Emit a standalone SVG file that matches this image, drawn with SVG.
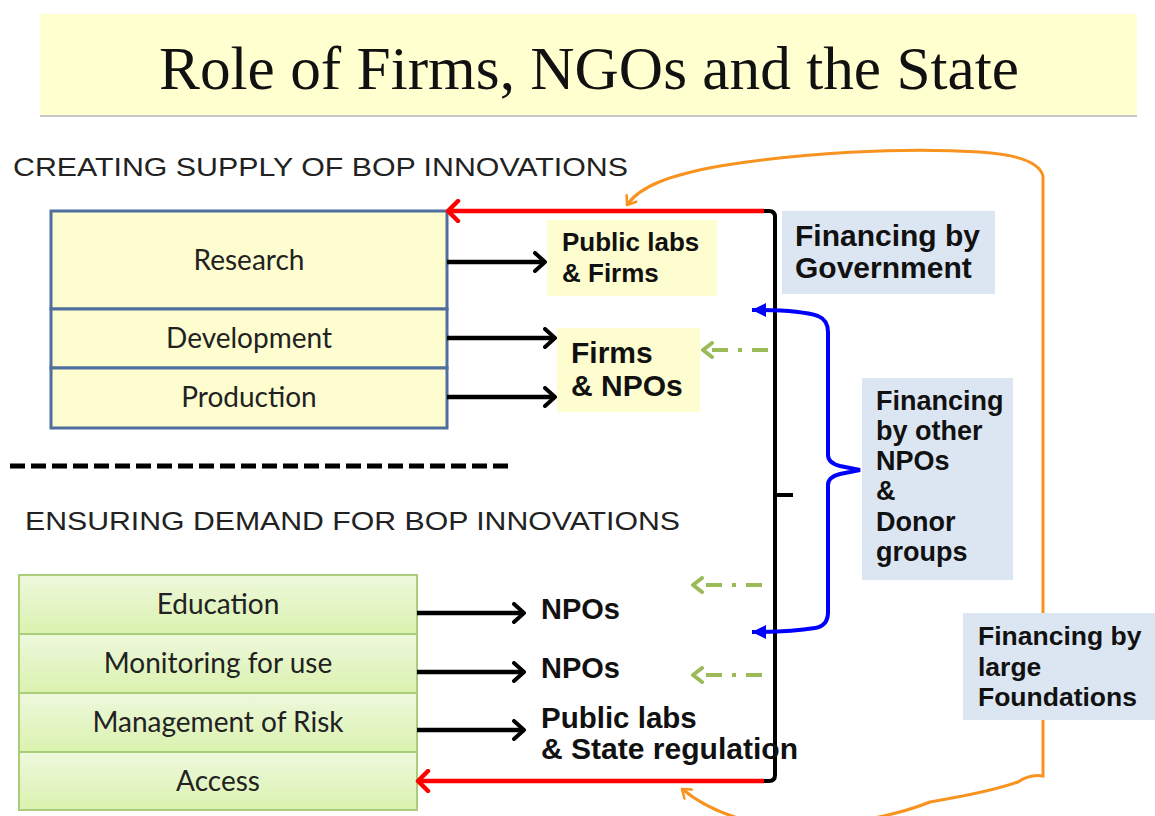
<svg xmlns="http://www.w3.org/2000/svg" width="1155" height="816" viewBox="0 0 1155 816">
<defs>
<linearGradient id="grn" x1="0" y1="0" x2="0" y2="1">
<stop offset="0" stop-color="#EEF8DD"/>
<stop offset="1" stop-color="#DAF2AE"/>
</linearGradient>
<marker id="blk" viewBox="0 0 14 22" refX="12" refY="11" markerWidth="14" markerHeight="22" markerUnits="userSpaceOnUse" orient="auto">
<path d="M2 2 L12 11 L2 20" fill="none" stroke="#000" stroke-width="4" stroke-linecap="round" stroke-linejoin="round"/>
</marker>
<marker id="red" viewBox="0 0 16 24" refX="13" refY="12" markerWidth="16" markerHeight="24" markerUnits="userSpaceOnUse" orient="auto">
<path d="M3 2 L13 12 L3 22" fill="none" stroke="#FF0000" stroke-width="4.5" stroke-linecap="round" stroke-linejoin="round"/>
</marker>
<marker id="blu" viewBox="0 0 16 16" refX="15" refY="8" markerWidth="16" markerHeight="16" markerUnits="userSpaceOnUse" orient="auto-start-reverse">
<path d="M1 1 L15 8 L1 15 Z" fill="#0000FF"/>
</marker>
<marker id="grnm" viewBox="0 0 14 18" refX="12" refY="9" markerWidth="14" markerHeight="18" markerUnits="userSpaceOnUse" orient="auto">
<path d="M3 2 L12 9 L3 16" fill="none" stroke="#9BBB59" stroke-width="4" stroke-linecap="round" stroke-linejoin="round"/>
</marker>
<marker id="org" viewBox="0 0 12 14" refX="10" refY="7" markerWidth="12" markerHeight="14" markerUnits="userSpaceOnUse" orient="auto-start-reverse">
<path d="M2 1 L10 7 L2 13" fill="none" stroke="#F7931E" stroke-width="2.5" stroke-linecap="round" stroke-linejoin="round"/>
</marker>
</defs>
<style>
.hdr{font-family:"Liberation Sans",Arial,sans-serif;font-size:26px;fill:#222}
.cell{font-family:Lato,"Open Sans",sans-serif;font-size:28px;fill:#222;text-anchor:middle}
.lbl{font-family:"Liberation Sans",Arial,sans-serif;font-weight:bold;fill:#111}
.fin{fill:#DCE6F2}
.ylw{fill:#FDFDCF}
.blk{stroke:#000;stroke-width:4.5;fill:none;marker-end:url(#blk)}
.gdash{stroke:#9BBB59;stroke-width:4;fill:none;stroke-dasharray:16 10 4 10;marker-end:url(#grnm)}
</style>
<rect width="1155" height="816" fill="#fff"/>
<g id="title">
<rect x="40" y="14" width="1097" height="102" fill="#FFFFD0"/>
<line x1="40" y1="116" x2="1137" y2="116" stroke="#C8C8C8" stroke-width="2"/>
<text x="589" y="89" font-family="'Liberation Serif',serif" font-size="61" text-anchor="middle" textLength="860" lengthAdjust="spacingAndGlyphs" fill="#111">Role of Firms, NGOs and the State</text>
</g>
<g id="supply-header"><text class="hdr" x="13" y="176" textLength="615" lengthAdjust="spacingAndGlyphs">CREATING SUPPLY OF BOP INNOVATIONS</text></g>
<g id="supply-box" stroke="#4F6F9F" stroke-width="3">
<rect x="51" y="211" width="396" height="98" fill="#FDFDCF"/>
<rect x="51" y="309" width="396" height="59" fill="#FDFDCF"/>
<rect x="51" y="368" width="396" height="60" fill="#FDFDCF"/>
<g stroke="none">
<text class="cell" x="249" y="270">Research</text>
<text class="cell" x="249" y="348">Development</text>
<text class="cell" x="249" y="407">Production</text>
</g>
</g>
<g id="divider"><line x1="10" y1="466" x2="512" y2="466" stroke="#000" stroke-width="5" stroke-dasharray="15 6"/></g>
<g id="demand-header"><text class="hdr" x="25" y="530" textLength="655" lengthAdjust="spacingAndGlyphs">ENSURING DEMAND FOR BOP INNOVATIONS</text></g>
<g id="demand-box" stroke="#A9CD7A" stroke-width="2">
<rect x="19" y="575" width="398" height="59" fill="url(#grn)"/>
<rect x="19" y="634" width="398" height="59" fill="url(#grn)"/>
<rect x="19" y="693" width="398" height="59" fill="url(#grn)"/>
<rect x="19" y="752" width="398" height="58" fill="url(#grn)"/>
<g stroke="none">
<text class="cell" x="218" y="614">Education</text>
<text class="cell" x="218" y="673">Monitoring for use</text>
<text class="cell" x="218" y="732">Management of Risk</text>
<text class="cell" x="218" y="791">Access</text>
</g>
</g>
<g id="public-labs-firms">
<rect class="ylw" x="547" y="220" width="170" height="76"/>
<text class="lbl" x="562" y="251" font-size="26">Public labs</text>
<text class="lbl" x="562" y="282" font-size="26">&amp; Firms</text>
</g>
<g id="firms-npos">
<rect class="ylw" x="557" y="328" width="143" height="84"/>
<text class="lbl" x="571" y="363" font-size="30">Firms</text>
<text class="lbl" x="571" y="396" font-size="30">&amp; NPOs</text>
</g>
<g id="npos-1"><text class="lbl" x="541" y="619" font-size="29">NPOs</text></g>
<g id="npos-2"><text class="lbl" x="541" y="678" font-size="29">NPOs</text></g>
<g id="fin-government">
<rect class="fin" x="782" y="211" width="213" height="83"/>
<text class="lbl" x="795" y="246" font-size="30">Financing by</text>
<text class="lbl" x="795" y="278" font-size="30">Government</text>
</g>
<g id="fin-npos">
<rect class="fin" x="862" y="378" width="151" height="202"/>
<g class="lbl" font-size="27">
<text x="876" y="410">Financing</text>
<text x="876" y="440">by other</text>
<text x="876" y="470">NPOs</text>
<text x="876" y="500">&amp;</text>
<text x="876" y="531">Donor</text>
<text x="876" y="561">groups</text>
</g>
</g>
<g id="connectors">
<line class="blk" x1="447" y1="262" x2="545" y2="262"/>
<line class="blk" x1="447" y1="338" x2="555" y2="338"/>
<line class="blk" x1="447" y1="397" x2="555" y2="397"/>
<line class="blk" x1="417" y1="613" x2="524" y2="613"/>
<line class="blk" x1="417" y1="672" x2="524" y2="672"/>
<line class="blk" x1="417" y1="730" x2="524" y2="730"/>
<path d="M762 211 L769 211 Q775 211 775 217 L775 775 Q775 781 769 781 L762 781" fill="none" stroke="#000" stroke-width="4"/>
<line x1="775" y1="495" x2="793" y2="495" stroke="#000" stroke-width="4"/>
<line x1="764" y1="211" x2="448" y2="211" stroke="#FF0000" stroke-width="4.5" marker-end="url(#red)"/>
<line x1="764" y1="781" x2="418" y2="781" stroke="#FF0000" stroke-width="4.5" marker-end="url(#red)"/>
<path d="M752 310 Q800 310 818 316 Q828 320 828 332 L828 455 Q828 463 840 466 L860 470 L840 474 Q828 477 828 485 L828 612 Q828 626 815 628 Q790 632 752 632" fill="none" stroke="#0000FF" stroke-width="4" marker-start="url(#blu)" marker-end="url(#blu)"/>
<line class="gdash" x1="768" y1="350" x2="703" y2="350"/>
<line class="gdash" x1="762" y1="585" x2="693" y2="585"/>
<line class="gdash" x1="762" y1="675" x2="693" y2="675"/>
<path d="M627 205 C640 186 670 175 720 166 C800 153 900 147 980 152 Q1038 156 1043 176 L1043 776 Q1030 774 1018 782 Q990 792 930 802 Q870 826 780 826 Q720 820 682 789" fill="none" stroke="#F7931E" stroke-width="3" marker-start="url(#org)" marker-end="url(#org)"/>
</g>
<g id="public-labs-state">
<text class="lbl" x="541" y="728" font-size="29.5">Public labs</text>
<text class="lbl" x="541" y="759" font-size="29.5" textLength="257" lengthAdjust="spacingAndGlyphs">&amp; State regulation</text>
</g>
<g id="fin-foundations">
<rect class="fin" x="963" y="613" width="192" height="107"/>
<g class="lbl" font-size="26.5">
<text x="978" y="645">Financing by</text>
<text x="978" y="676">large</text>
<text x="978" y="706">Foundations</text>
</g>
</g>
</svg>
